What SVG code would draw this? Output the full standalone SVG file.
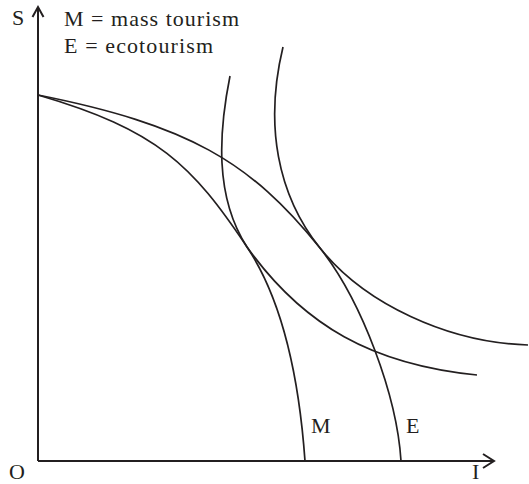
<svg xmlns="http://www.w3.org/2000/svg" width="529" height="484" viewBox="0 0 529 484">
  <style>
    .axis { fill: none; stroke: #231f20; stroke-width: 2; }
    .curve { fill: none; stroke: #231f20; stroke-width: 1.7; }
    .lbl { font-family: "Liberation Serif", "Times New Roman", serif; font-size: 22px; fill: #231f20; }
  </style>
  <rect width="529" height="484" fill="#ffffff"/>
  <g id="axes">
    <path class="axis" d="M38,461 V7 M32.5,17 L38,7 L43.5,17"/>
    <path class="axis" d="M38,461 H494 M483,454 L494,461 L483,468"/>
  </g>
  <g id="curves">
    <path id="ppf-m" class="curve" d="M38,95 C158,130 192,165 247,247 C287,307 300,391 305,461"/>
    <path id="ppf-e" class="curve" d="M38,95 C188,125 250,161 320,248 C362,301 397,396 401,461"/>
    <path id="ic-1" class="curve" d="M230,76 C219,131 214,196 247,247 C303.6,326.1 372.7,364.5 477,375"/>
    <path id="ic-2" class="curve" d="M283,47 C264.3,124.4 277.3,194.7 320,248 C364.6,303.8 447.8,342.6 528,345"/>
  </g>
  <g id="labels">
    <text class="lbl" x="12" y="25">S</text>
    <text class="lbl" x="64" y="26" textLength="175" lengthAdjust="spacing">M = mass tourism</text>
    <text class="lbl" x="64" y="53" textLength="149" lengthAdjust="spacing">E = ecotourism</text>
    <text class="lbl" x="311" y="433">M</text>
    <text class="lbl" x="406" y="433">E</text>
    <text class="lbl" x="9" y="479">O</text>
    <text class="lbl" x="472" y="479">I</text>
  </g>
</svg>
